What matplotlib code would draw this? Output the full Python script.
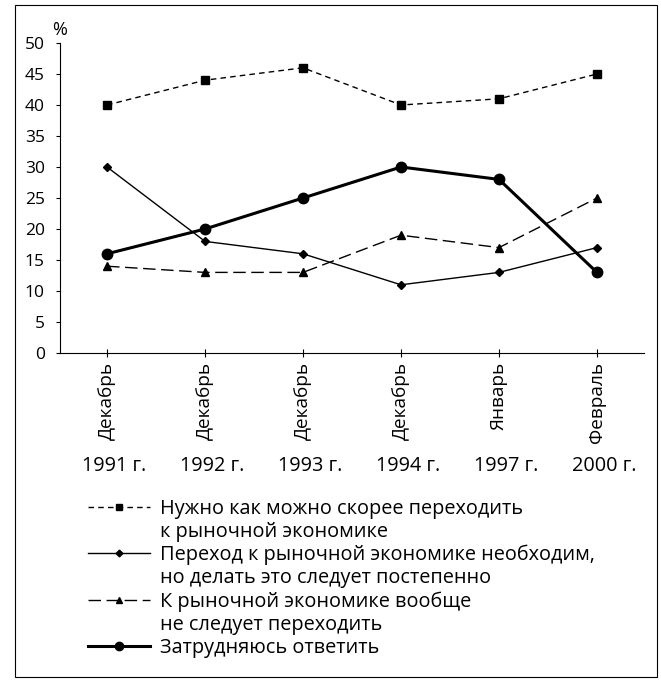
import matplotlib
matplotlib.use("Agg")
import matplotlib.pyplot as plt
import matplotlib.transforms as mtransforms
from matplotlib.lines import Line2D
from matplotlib.patches import Rectangle

plt.rcParams["font.family"] = ["Open Sans", "DejaVu Sans"]

# ---------- data ----------
months = ["Декабрь", "Декабрь", "Декабрь", "Декабрь", "Январь", "Февраль"]
years = ["1991 г.", "1992 г.", "1993 г.", "1994 г.", "1997 г.", "2000 г."]

fast = [40, 44, 46, 40, 41, 45]
gradual = [30, 18, 16, 11, 13, 17]
never = [14, 13, 13, 19, 17, 25]
unsure = [16, 20, 25, 30, 28, 13]

labels = [
    ["Нужно как можно скорее переходить", "к рыночной экономике"],
    ["Переход к рыночной экономике необходим,", "но делать это следует постепенно"],
    ["К рыночной экономике вообще", "не следует переходить"],
    ["Затрудняюсь ответить"],
]

fig = plt.figure(figsize=(6.61, 6.82), dpi=100)
ax = fig.add_axes([60 / 661, 1 - 353 / 682, 584 / 661, 310 / 682])

x = list(range(len(years)))
styles = [
    dict(color="black", lw=1.0, ls=(0, (4, 3)), marker="s", ms=6),
    dict(color="black", lw=1.0, ls="-", marker="D", ms=4.3),
    dict(color="black", lw=1.0, ls=(0, (9, 4)), marker="^", ms=6),
    dict(color="black", lw=2.2, ls="-", marker="o", ms=7.5),
]
series = [fast, gradual, never, unsure]
handles, leg_labels = [], []
blank = Line2D([], [], color="none")
for vals, st, lab in zip(series, styles, labels):
    ax.plot(x, vals, **st, zorder=3)
    hst = dict(st)
    hst["ms"] = st["ms"] * 0.8
    handles.append(Line2D([0], [0], **hst))
    leg_labels.append(lab[0])
    for extra in lab[1:]:
        handles.append(blank)
        leg_labels.append(extra)

ax.set_ylim(0, 50)
ax.set_xlim(-0.48, 5.48)
ax.set_yticks(range(0, 51, 5))
ax.set_xticks(x)
ax.set_xticklabels([])
ax.tick_params(axis="y", direction="out", length=3, labelsize=12.5, pad=8, width=0.8)
ax.tick_params(axis="x", direction="inout", length=6, width=0.8)
for s in ["top", "right"]:
    ax.spines[s].set_visible(False)
for s in ["left", "bottom"]:
    ax.spines[s].set_linewidth(0.8)

fig.text(60 / 661, 1 - 30 / 682, "%", fontsize=13, ha="center", va="center")

# category labels: rotated month + year below
trans = mtransforms.blended_transform_factory(ax.transData, fig.transFigure)
year_trans = trans + mtransforms.ScaledTranslation(7 / 100, 0, fig.dpi_scale_trans)
for i, (m, y) in enumerate(zip(months, years)):
    ax.text(i, 1 - 362 / 682, m, transform=trans, rotation=90, ha="center",
            va="top", fontsize=13.7)
    ax.text(i, 1 - 466 / 682, y, transform=year_trans, ha="center",
            va="center", fontsize=14.3)

leg = fig.legend(handles=handles, labels=leg_labels, loc="upper left",
                 bbox_to_anchor=(88 / 661, 1 - 499 / 682),
                 bbox_transform=fig.transFigure, frameon=False, fontsize=14.3,
                 handlelength=3.1, handletextpad=0.5, labelspacing=0.15,
                 borderpad=0, borderaxespad=0)

# scanned page frame
fig.patches.append(Rectangle((15 / 661, 5 / 682), 642 / 661, 672 / 682,
                             transform=fig.transFigure, fill=False,
                             edgecolor="black", lw=0.8))

fig.savefig("out.png", dpi=100, facecolor="white")
